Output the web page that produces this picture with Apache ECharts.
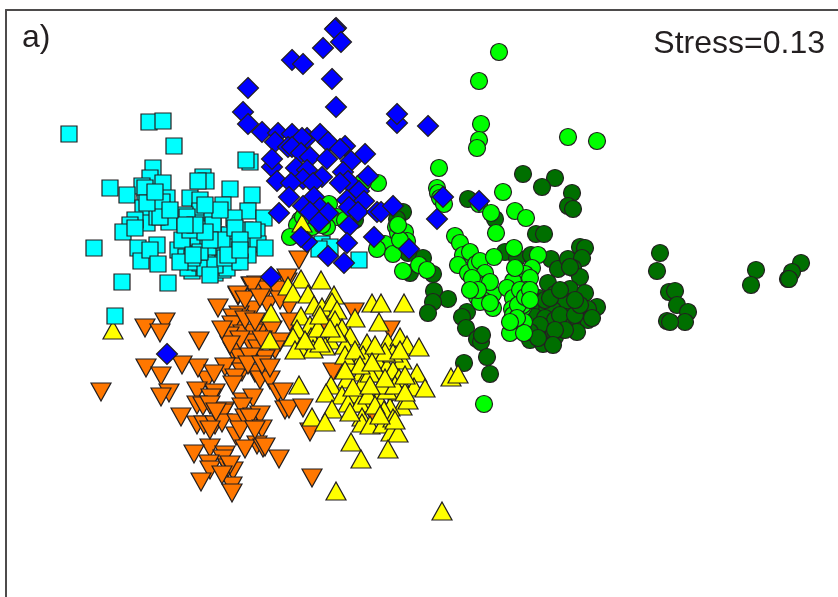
<!DOCTYPE html>
<html>
<head>
<meta charset="utf-8">
<title>NMDS ordination</title>
<script src="https://cdn.jsdelivr.net/npm/echarts@6/dist/echarts.min.js"></script>
<style>
  html, body { margin: 0; padding: 0; background: #fff; }
  #chart { width: 838px; height: 597px; }
</style>
</head>
<body>
<div id="chart"></div>
<script>
// values, in the plot's own units (no tick labels on the original)
const darkGreen = [
  [523,174],[555,178],[542,187],[572,193],[568,206],[573,209],[468,199],[495,219],[536,234],[544,234],
  [660,253],[657,271],[756,270],[751,285],[801,263],[792,272],[788,279],[789,279],
  [669,292],[675,291],[677,305],[688,312],[685,322],[667,321],[670,322],
  [403,212],[423,258],[433,274],[410,273],[408,253],[434,291],[448,299],[433,302],[428,313],[467,312],
  [462,317],[466,328],[477,339],[481,342],[482,335],[487,357],[464,363],[490,374],
  [505,252],[517,258],[531,255],[551,259],[558,269],[568,259],[580,247],[585,248],[582,258],[573,268],
  [580,277],[570,267],[548,283],[570,289],[585,293],[555,294],[539,298],[597,307],[588,309],[571,308],
  [560,305],[566,302],[540,308],[547,310],[553,310],[535,317],[566,317],[581,319],[588,320],[572,323],
  [577,332],[560,327],[548,325],[548,330],[548,337],[555,337],[537,332],[530,340],[543,344],[397,219],[355,220],
  [545,318],[555,320],[560,315],[540,325],[565,330],[575,315],[555,330],[553,345],[580,305],[592,318],
  [545,300],[550,298],[575,300],[560,290],[530,332],[538,338]
];
const lightGreen = [
  [499,52],[479,81],[481,124],[479,140],[477,148],[568,137],[597,141],[439,168],[437,188],[438,193],
  [440,198],[444,204],[479,204],[491,213],[503,192],[515,211],[526,218],[496,233],
  [455,236],[460,243],[463,255],[470,252],[458,265],[468,273],[476,264],[480,261],[485,273],[477,283],
  [485,285],[477,297],[487,293],[493,294],[483,300],[493,308],[480,302],
  [494,257],[514,248],[538,255],[532,268],[525,274],[530,278],[513,281],[507,288],[526,290],[513,298],
  [523,308],[523,305],[512,309],[513,315],[524,322],[510,333],[524,333],[484,404],
  [396,227],[398,233],[405,232],[407,241],[385,244],[377,249],[393,254],[419,265],[427,270],[403,271],
  [329,204],[337,217],[345,220],[378,183],[363,182],[300,220],[297,225],[290,237],[312,227],[327,227],[322,225],[303,217],
  [472,278],[490,282],[478,290],[470,290],[490,303],[515,268],[520,290],[518,305],[525,297],[530,290],
  [517,318],[530,300],[400,240],[398,225],[510,322]
];
const orange = [
  [299,260],[251,286],[257,285],[287,282],[267,290],[277,290],[238,296],[218,308],[253,310],[268,305],
  [289,307],[239,315],[233,318],[237,325],[232,325],[290,322],[262,328],[243,334],[229,336],[272,330],
  [253,333],[325,323],[354,312],[390,330],[280,342],[250,343],[233,351],[258,349],[275,350],[240,358],
  [265,359],[250,357],[240,367],[225,367],[242,372],[255,373],[235,378],[260,380],[233,385],[270,380],
  [207,380],[198,368],[214,374],[182,365],[146,368],[145,328],[165,322],[160,333],[199,341],[161,376],
  [101,392],[169,393],[161,397],[197,391],[215,393],[211,398],[197,405],[203,406],[243,402],[253,398],
  [242,407],[278,393],[283,392],[285,410],[289,409],[303,408],[333,372],[224,411],[223,413],[181,417],
  [197,425],[204,425],[215,425],[222,423],[237,423],[245,418],[253,417],[260,415],[250,418],[262,429],
  [236,436],[257,445],[245,449],[263,448],[265,447],[210,448],[194,454],[279,459],[225,455],[223,459],
  [209,464],[210,470],[228,468],[233,471],[201,482],[232,486],[232,493],[312,478],[310,432],[372,413],
  [392,393],[252,286],[287,278],[238,295],
  [245,300],[260,298],[280,300],[245,320],[255,322],[240,340],[262,340],[248,365],[262,365],[230,345],
  [222,330],[270,368],[210,405],[216,412],[240,430],[255,430],[210,430],[230,465],[222,475]
];
const yellow = [
  [302,223],[113,330],[301,279],[321,280],[288,286],[293,293],[308,294],[334,295],[372,303],[381,303],
  [404,303],[314,305],[322,307],[332,302],[337,310],[271,313],[301,316],[355,318],[335,320],[310,325],
  [297,329],[342,328],[379,322],[293,337],[311,337],[270,340],[350,336],[330,340],[325,346],[345,345],
  [300,348],[313,349],[295,350],[367,343],[388,342],[400,337],[407,345],[419,347],[357,360],[350,365],
  [377,360],[402,360],[387,367],[393,370],[362,372],[378,373],[417,373],[414,387],[425,388],[347,379],
  [363,382],[399,378],[451,377],[458,374],[299,385],[331,385],[326,393],[398,391],[342,395],[355,394],
  [378,398],[348,403],[363,401],[360,403],[402,406],[408,400],[332,409],[390,407],[384,410],[312,417],
  [325,422],[362,417],[362,423],[370,425],[383,424],[393,418],[391,432],[398,433],[351,442],[388,449],
  [361,459],[336,491],[442,511],[370,373],[387,390],[382,385],[353,387],[373,350],[393,353],[363,355],
  [337,333],[320,343],[318,328],
  [345,355],[355,350],[385,352],[375,345],[400,350],[360,365],[372,362],[345,370],[395,385],[405,392],
  [368,395],[375,405],[350,412],[395,420],[380,415],[405,375],[385,378],[370,385],[320,315],[330,328],[305,340]
];
const cyan = [
  [69,134],[149,122],[163,121],[174,146],[250,162],[246,160],[153,168],[150,178],[142,186],[163,183],
  [110,188],[127,195],[145,188],[167,198],[145,203],[159,203],[143,208],[203,177],[206,181],[198,181],
  [230,189],[252,195],[190,198],[200,200],[223,205],[200,211],[185,215],[248,211],[264,218],[147,223],
  [169,222],[135,220],[130,225],[123,232],[157,217],[234,218],[213,217],[201,223],[245,230],[188,232],
  [216,235],[229,235],[257,232],[193,241],[246,243],[258,244],[265,248],[138,248],[157,245],[94,248],
  [178,250],[215,250],[233,247],[186,257],[217,259],[207,258],[248,255],[233,262],[141,261],[150,250],
  [158,264],[192,271],[215,273],[223,270],[188,268],[122,282],[168,283],[322,244],[330,247],[319,249],
  [359,260],[115,316],[212,213],[198,238],[220,247],[200,263],[227,268],[208,247],[182,240],[213,225],
  [253,230],[162,202],[160,217],[147,203],[190,230],[187,217],
  [195,262],[205,268],[215,265],[225,258],[240,262],[200,252],[192,258],[222,240],[210,240],[205,232],
  [195,225],[235,228],[240,240],[180,262],[210,275],[193,255],[228,255],[240,250],[185,225],[220,210],
  [205,205],[170,210],[155,192],[135,228]
];
const blue = [
  [336,28],[335,29],[341,42],[323,48],[292,60],[303,64],[332,79],[248,88],[336,107],[243,112],
  [248,124],[397,123],[397,114],[428,126],[262,132],[278,133],[292,134],[275,142],[307,138],[302,138],
  [320,134],[328,142],[345,146],[340,149],[365,154],[288,147],[292,147],[301,153],[310,157],[327,159],
  [272,167],[272,159],[351,161],[296,168],[307,170],[343,172],[322,177],[303,179],[277,181],[348,181],
  [340,183],[291,183],[368,176],[313,183],[289,197],[314,197],[359,191],[347,200],[364,201],[303,206],
  [349,207],[358,212],[279,213],[320,208],[310,212],[328,213],[377,212],[381,212],[393,206],[319,222],
  [349,226],[374,237],[307,242],[301,237],[347,243],[328,256],[344,263],[409,249],[271,277],[443,197],
  [479,201],[437,219],[167,354]
];
const panelLabel = 'a)';
const stressLabel = 'Stress=0.13';

const outline = { borderColor: '#231f20', borderWidth: 1.2 };

function markers(data, color, symbol, symbolSize, symbolRotate) {
  return {
    type: 'scatter',
    data,
    symbol,
    symbolSize,
    symbolRotate: symbolRotate || 0,
    silent: true,
    itemStyle: { color, opacity: 1, ...outline }
  };
}

const chart = echarts.init(document.getElementById('chart'), null, { renderer: 'canvas' });
const hidden = { axisTick: { show: false }, axisLabel: { show: false }, splitLine: { show: false } };
const frame = { show: true, onZero: false, lineStyle: { color: '#4d4b4b', width: 2 } };
const labelStyle = { fontFamily: 'Liberation Sans', fontSize: 32, fontWeight: 'normal', color: '#231f20' };

chart.setOption({
  animation: false,
  backgroundColor: '#fff',
  grid: { left: 6, top: 10, right: 0, bottom: 0, containLabel: false },
  xAxis: { type: 'value', position: 'top', min: 6, max: 838, axisLine: frame, ...hidden },
  yAxis: { type: 'value', inverse: true, min: 10, max: 597, axisLine: frame, ...hidden },
  title: [
    { text: panelLabel, left: 22, top: 22, padding: 0, textStyle: labelStyle },
    { text: stressLabel, right: 13, top: 28, padding: 0, textStyle: labelStyle }
  ],
  series: [
    markers(darkGreen, '#006f00', 'circle', 17),
    markers(lightGreen, '#00ff00', 'circle', 17),
    markers(orange, '#ff7700', 'triangle', [20, 18], 180),
    markers(yellow, '#ffff00', 'triangle', [20, 18]),
    markers(cyan, '#00ffff', 'rect', 16),
    markers(blue, '#0000ff', 'diamond', 21)
  ]
});
</script>
</body>
</html>
